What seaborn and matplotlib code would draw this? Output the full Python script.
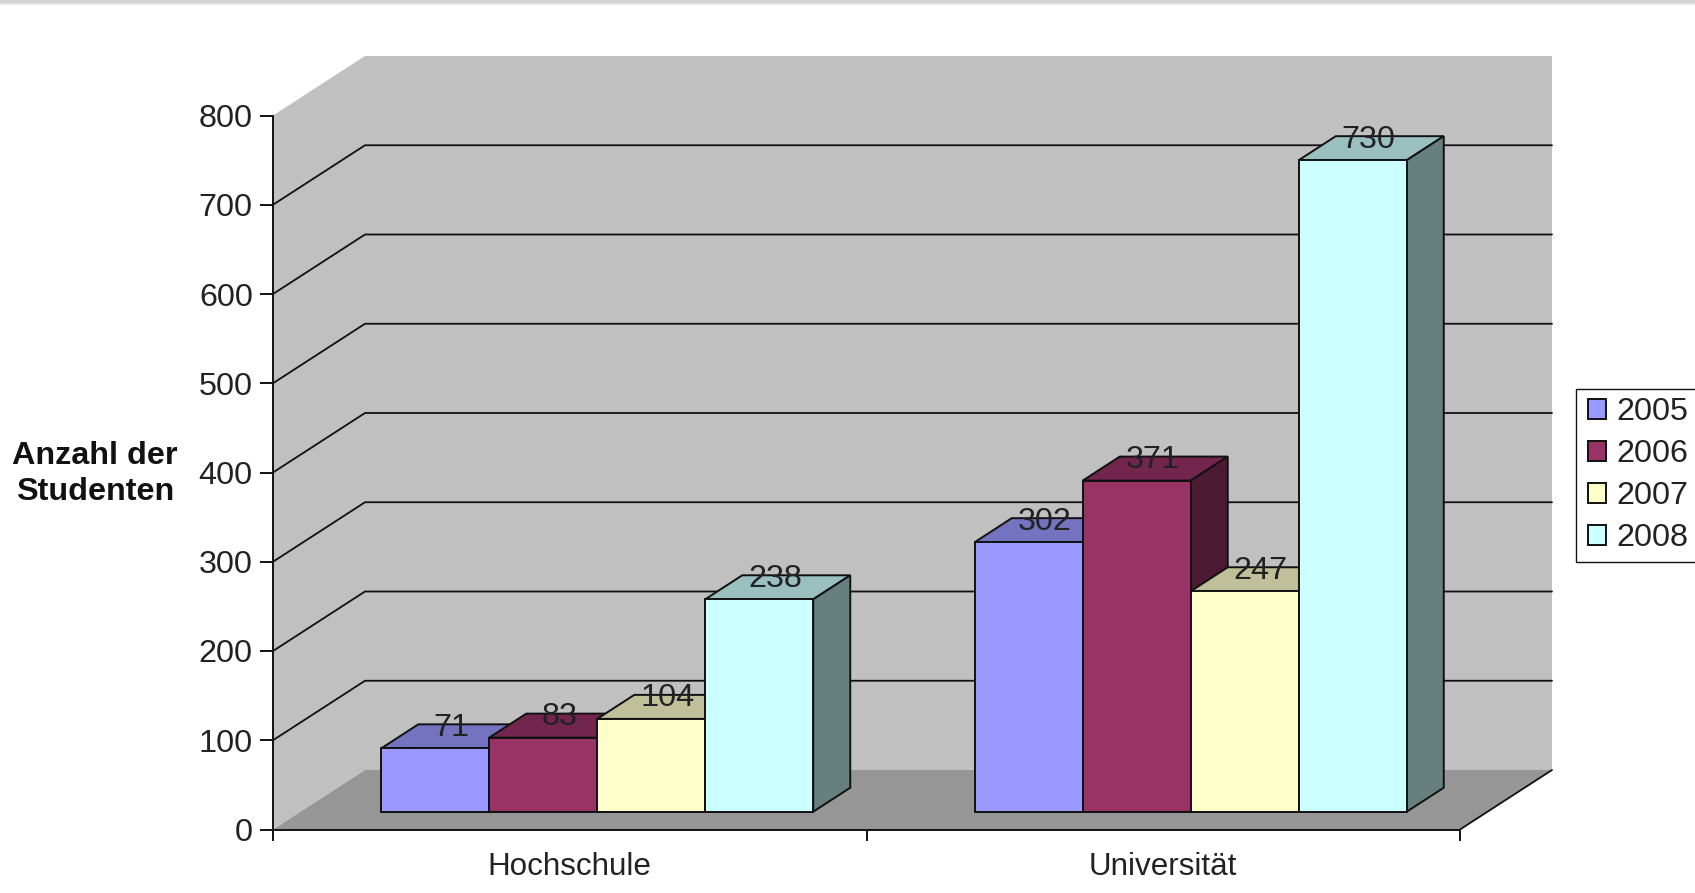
"""Clustered pseudo-3D bar chart of student numbers per school type and year."""

from __future__ import annotations

import matplotlib

matplotlib.use("Agg")
import matplotlib.pyplot as plt
import pandas as pd
import seaborn as sns
from matplotlib.legend_handler import HandlerPatch
from matplotlib.patches import Polygon, Rectangle

CATEGORIES = ["Hochschule", "Universität"]
YEARS = ["2005", "2006", "2007", "2008"]
VALUES_2005 = [71, 302]
VALUES_2006 = [83, 371]
VALUES_2007 = [104, 247]
VALUES_2008 = [238, 730]
COLORS = ["#9999FF", "#993366", "#FFFFCC", "#CCFFFF"]
TOP_COLORS = ["#7373BF", "#73264D", "#BFBF99", "#99BFBF"]
SIDE_COLORS = ["#4D4D80", "#4D1A33", "#808066", "#668080"]
Y_TICKS = [0, 100, 200, 300, 400, 500, 600, 700, 800]

FIG_W, FIG_H = 1695, 893
AX_LEFT, AX_RIGHT, AX_BOTTOM, AX_TOP = 273, 1460, 829.5, 115.5
PX_X = (AX_RIGHT - AX_LEFT) / 2  # pixels per category
PX_Y = (AX_BOTTOM - AX_TOP) / 800  # pixels per student

# Depth of the fake 3D box, in data units
WALL_DX, WALL_DY = 92 / PX_X, 59.5 / PX_Y
BAR_DX, BAR_DY = 37 / PX_X, 24 / PX_Y
SHIFT_DX, SHIFT_DY = 27.5 / PX_X, 17.8 / PX_Y
LINE = "#111111"
TEXT = "#222222"
FONT_SIZE = 23.3

df = pd.DataFrame(
    {
        "category": CATEGORIES * 4,
        "year": [y for y in YEARS for _ in CATEGORIES],
        "students": VALUES_2005 + VALUES_2006 + VALUES_2007 + VALUES_2008,
    }
)

sns.set_theme(style="white")
plt.rcParams["font.family"] = ["Liberation Sans", "DejaVu Sans"]

fig = plt.figure(figsize=(FIG_W / 100, FIG_H / 100), dpi=100, facecolor="white")
ax = fig.add_axes(
    [
        AX_LEFT / FIG_W,
        1 - AX_BOTTOM / FIG_H,
        (AX_RIGHT - AX_LEFT) / FIG_W,
        (AX_BOTTOM - AX_TOP) / FIG_H,
    ]
)
ax.patch.set_alpha(0)

sns.barplot(
    data=df,
    x="category",
    y="students",
    hue="year",
    order=CATEGORIES,
    hue_order=YEARS,
    palette=COLORS,
    saturation=1,
    width=4 * 108 / PX_X,
    gap=0,
    edgecolor=LINE,
    linewidth=1.4,
    legend=False,
    ax=ax,
)
ax.set_xlim(-0.5, 1.5)
ax.set_ylim(0, 800)

# Walls and floor
x0, x1 = -0.5, 1.5
wall = [
    Polygon(
        [(x0, 0), (x0 + WALL_DX, WALL_DY), (x0 + WALL_DX, 800 + WALL_DY), (x0, 800)],
        facecolor="#C0C0C0",
    ),
    Rectangle((x0 + WALL_DX, WALL_DY), x1 - x0, 800, facecolor="#C0C0C0"),
    Polygon(
        [(x0, 0), (x1, 0), (x1 + WALL_DX, WALL_DY), (x0 + WALL_DX, WALL_DY)],
        facecolor="#969696",
    ),
]
for shape in wall:
    shape.set(edgecolor="none", zorder=0.5, clip_on=False)
    ax.add_patch(shape)

for v in Y_TICKS[1:-1]:
    ax.plot(
        [x0, x0 + WALL_DX, x1 + WALL_DX],
        [v, v + WALL_DY, v + WALL_DY],
        color=LINE,
        lw=1.3,
        zorder=0.7,
        clip_on=False,
    )
ax.plot([x1, x1 + WALL_DX], [0, WALL_DY], color=LINE, lw=1.3, zorder=0.7, clip_on=False)

# Move the bars off the front plane and give each one a top and a side face
for i, container in enumerate(ax.containers):
    z = 3 + i
    for bar, label in zip(container.patches, container.datavalues):
        bar.set_x(bar.get_x() + SHIFT_DX)
        bar.set_y(SHIFT_DY)
        bar.set(zorder=z + 0.2, clip_on=False)
        left = bar.get_x()
        right = left + bar.get_width()
        bot = bar.get_y()
        top = bot + bar.get_height()
        top_face = Polygon(
            [
                (left, top),
                (right, top),
                (right + BAR_DX, top + BAR_DY),
                (left + BAR_DX, top + BAR_DY),
            ],
            facecolor=TOP_COLORS[i],
        )
        side_face = Polygon(
            [
                (right, bot),
                (right + BAR_DX, bot + BAR_DY),
                (right + BAR_DX, top + BAR_DY),
                (right, top),
            ],
            facecolor=SIDE_COLORS[i],
        )
        for face in (top_face, side_face):
            face.set(edgecolor=LINE, linewidth=1.4, zorder=z, clip_on=False)
            ax.add_patch(face)
        ax.text(
            (left + right) / 2 + 16 / PX_X,
            top + 20.5 / PX_Y,
            f"{label:.0f}",
            ha="center",
            va="center",
            fontsize=FONT_SIZE,
            color=TEXT,
            zorder=10,
        )

# Axes
sns.despine(ax=ax)
for side in ("left", "bottom"):
    ax.spines[side].set_color(LINE)
    ax.spines[side].set_linewidth(1.4)
ax.set_yticks(Y_TICKS)
ax.tick_params(
    axis="y", left=True, length=9.5, width=1.4, color=LINE, pad=5, labelsize=FONT_SIZE,
    labelcolor=TEXT,
)
ax.set_xticks([x0, 0.5, x1], labels=[])
ax.set_xticks([0, 1], labels=CATEGORIES, minor=True)
ax.tick_params(axis="x", which="major", bottom=True, length=8, width=1.4, color=LINE)
ax.tick_params(axis="x", which="minor", bottom=False, length=0, pad=16, labelsize=22.6, labelcolor=TEXT)
ax.set_xlabel("")
ax.set_ylabel(
    "Anzahl der\nStudenten",
    rotation=0,
    fontsize=FONT_SIZE,
    fontweight="bold",
    color="#111111",
    ha="center",
    va="center",
    linespacing=1.25,
)
ax.yaxis.set_label_coords((95 - AX_LEFT) / (AX_RIGHT - AX_LEFT), (AX_BOTTOM - 474) / (AX_BOTTOM - AX_TOP))

ax.legend(
    handles=[c.patches[0] for c in ax.containers],
    labels=YEARS,
    loc="upper left",
    bbox_to_anchor=(1576 / FIG_W, 1 - 389 / FIG_H),
    bbox_transform=fig.transFigure,
    borderaxespad=0,
    fontsize=FONT_SIZE,
    frameon=True,
    fancybox=False,
    framealpha=1,
    edgecolor=LINE,
    labelcolor=TEXT,
    handlelength=0.68,
    handleheight=0.58,
    handletextpad=0.3,
    labelspacing=0.37,
    borderpad=0.26,
    handler_map={Rectangle: HandlerPatch(xpad=0.1)},
)

# Window shadow along the top edge of the screenshot
for height, shade in [(5, "#E6E6E6"), (3, "#D2D2D2")]:
    fig.patches.append(
        Rectangle(
            (0, 1 - height / FIG_H),
            1,
            height / FIG_H,
            transform=fig.transFigure,
            facecolor=shade,
            edgecolor="none",
        )
    )

fig.savefig("out.png", dpi=100, facecolor="white")
plt.close(fig)
